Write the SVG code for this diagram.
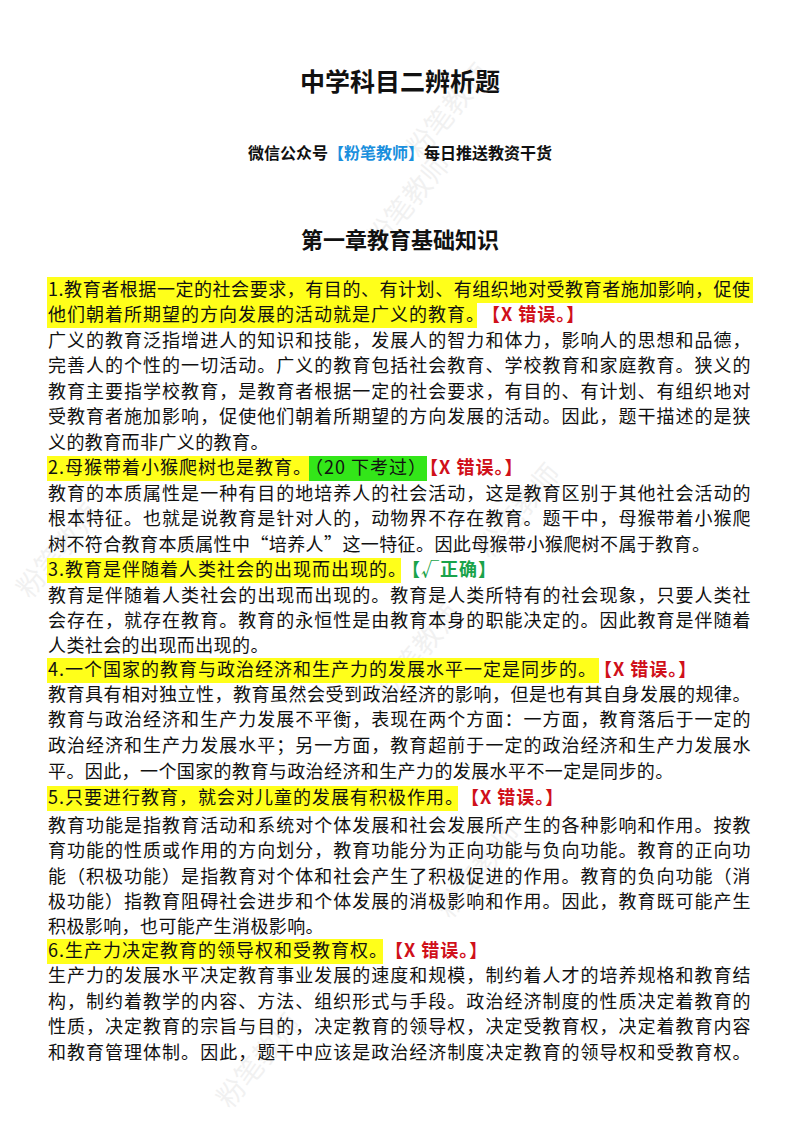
<svg xmlns="http://www.w3.org/2000/svg" width="800" height="1132" viewBox="0 0 800 1132">
<style>
text{font-family:"Noto Sans CJK SC","Noto Sans",sans-serif;fill:#111}
.b{font-size:18px;letter-spacing:0.4px}
.h{font-size:18px;letter-spacing:1px}
.r{fill:#d0101a;font-weight:bold}
.g{fill:#1aa34a;font-weight:bold}
.y{fill:#ffff1a}
.gr{fill:#33e619}
.wm{font-size:28px;fill:#000;opacity:0.05}
</style>
<rect width="800" height="1132" fill="#fff"/>
<g id="watermarks">
<text class="wm" transform="translate(380,250) rotate(-50)">粉笔教师</text>
<text class="wm" transform="translate(420,160) rotate(-50)">粉笔教师</text>
<text class="wm" transform="translate(30,600) rotate(-50)">粉笔教师</text>
<text class="wm" transform="translate(490,560) rotate(-50)">粉笔教师</text>
<text class="wm" transform="translate(390,700) rotate(-50)">粉笔教师</text>
<text class="wm" transform="translate(450,920) rotate(-50)">粉笔教师</text>
<text class="wm" transform="translate(230,1110) rotate(-50)">粉笔教师</text>
</g>
<g id="header">
<text x="400" y="91" text-anchor="middle" font-size="25" font-weight="bold">中学科目二辨析题</text>
<text x="400" y="159" text-anchor="middle" font-size="16" font-weight="bold">微信公众号<tspan fill="#1a8fdd">【粉笔教师】</tspan>每日推送教资干货</text>
<text x="400" y="248" text-anchor="middle" font-size="22" font-weight="bold">第一章教育基础知识</text>
</g>
<g id="highlights">
<rect class="y" x="47" y="277" width="706" height="26"/>
<rect class="y" x="47" y="303" width="430" height="25"/>
<rect class="y" x="47" y="456" width="262" height="25"/>
<rect class="gr" x="309" y="456" width="118" height="25"/>
<rect class="y" x="47" y="558" width="354" height="25"/>
<rect class="y" x="47" y="658" width="552" height="25"/>
<rect class="y" x="47" y="786" width="411" height="25"/>
<rect class="y" x="47" y="939" width="336" height="25"/>
</g>
<g id="body">
<text class="h" x="48" y="296" textLength="703" lengthAdjust="spacing">1.教育者根据一定的社会要求，有目的、有计划、有组织地对受教育者施加影响，促使</text>
<text class="h" x="48" y="321">他们朝着所期望的方向发展的活动就是广义的教育。<tspan class="r" dx="6">【X 错误。】</tspan></text>
<text class="b" x="48" y="347" textLength="703" lengthAdjust="spacing">广义的教育泛指增进人的知识和技能，发展人的智力和体力，影响人的思想和品德，</text>
<text class="b" x="48" y="372" textLength="703" lengthAdjust="spacing">完善人的个性的一切活动。广义的教育包括社会教育、学校教育和家庭教育。狭义的</text>
<text class="b" x="48" y="398" textLength="703" lengthAdjust="spacing">教育主要指学校教育，是教育者根据一定的社会要求，有目的、有计划、有组织地对</text>
<text class="b" x="48" y="423" textLength="703" lengthAdjust="spacing">受教育者施加影响，促使他们朝着所期望的方向发展的活动。因此，题干描述的是狭</text>
<text class="b" x="48" y="449">义的教育而非广义的教育。</text>
<text class="h" x="48" y="474">2.母猴带着小猴爬树也是教育。<tspan dx="2">（20 下考过）</tspan><tspan class="r" dx="2">【X 错误。】</tspan></text>
<text class="b" x="48" y="500" textLength="703" lengthAdjust="spacing">教育的本质属性是一种有目的地培养人的社会活动，这是教育区别于其他社会活动的</text>
<text class="b" x="48" y="525" textLength="703" lengthAdjust="spacing">根本特征。也就是说教育是针对人的，动物界不存在教育。题干中，母猴带着小猴爬</text>
<text class="b" x="48" y="551">树不符合教育本质属性中“培养人”这一特征。因此母猴带小猴爬树不属于教育。</text>
<text class="h" x="48" y="576">3.教育是伴随着人类社会的出现而出现的。<tspan class="g" dx="4">【√正确】</tspan></text>
<text class="b" x="48" y="602" textLength="703" lengthAdjust="spacing">教育是伴随着人类社会的出现而出现的。教育是人类所特有的社会现象，只要人类社</text>
<text class="b" x="48" y="627" textLength="703" lengthAdjust="spacing">会存在，就存在教育。教育的永恒性是由教育本身的职能决定的。因此教育是伴随着</text>
<text class="b" x="48" y="652">人类社会的出现而出现的。</text>
<text class="h" x="48" y="676">4.一个国家的教育与政治经济和生产力的发展水平一定是同步的。<tspan class="r" dx="6">【X 错误。】</tspan></text>
<text class="b" x="48" y="701" textLength="703" lengthAdjust="spacing">教育具有相对独立性，教育虽然会受到政治经济的影响，但是也有其自身发展的规律。</text>
<text class="b" x="48" y="726" textLength="703" lengthAdjust="spacing">教育与政治经济和生产力发展不平衡，表现在两个方面：一方面，教育落后于一定的</text>
<text class="b" x="48" y="752" textLength="703" lengthAdjust="spacing">政治经济和生产力发展水平；另一方面，教育超前于一定的政治经济和生产力发展水</text>
<text class="b" x="48" y="778">平。因此，一个国家的教育与政治经济和生产力的发展水平不一定是同步的。</text>
<text class="h" x="48" y="804">5.只要进行教育，就会对儿童的发展有积极作用。<tspan class="r" dx="6">【X 错误。】</tspan></text>
<text class="b" x="48" y="832" textLength="703" lengthAdjust="spacing">教育功能是指教育活动和系统对个体发展和社会发展所产生的各种影响和作用。按教</text>
<text class="b" x="48" y="857" textLength="703" lengthAdjust="spacing">育功能的性质或作用的方向划分，教育功能分为正向功能与负向功能。教育的正向功</text>
<text class="b" x="48" y="883" textLength="703" lengthAdjust="spacing">能（积极功能）是指教育对个体和社会产生了积极促进的作用。教育的负向功能（消</text>
<text class="b" x="48" y="908" textLength="703" lengthAdjust="spacing">极功能）指教育阻碍社会进步和个体发展的消极影响和作用。因此，教育既可能产生</text>
<text class="b" x="48" y="933">积极影响，也可能产生消极影响。</text>
<text class="h" x="48" y="957">6.生产力决定教育的领导权和受教育权。<tspan class="r" dx="6">【X 错误。】</tspan></text>
<text class="b" x="48" y="982" textLength="703" lengthAdjust="spacing">生产力的发展水平决定教育事业发展的速度和规模，制约着人才的培养规格和教育结</text>
<text class="b" x="48" y="1008" textLength="703" lengthAdjust="spacing">构，制约着教学的内容、方法、组织形式与手段。政治经济制度的性质决定着教育的</text>
<text class="b" x="48" y="1033" textLength="703" lengthAdjust="spacing">性质，决定教育的宗旨与目的，决定教育的领导权，决定受教育权，决定着教育内容</text>
<text class="b" x="48" y="1059" textLength="703" lengthAdjust="spacing">和教育管理体制。因此，题干中应该是政治经济制度决定教育的领导权和受教育权。</text>
</g>
</svg>
